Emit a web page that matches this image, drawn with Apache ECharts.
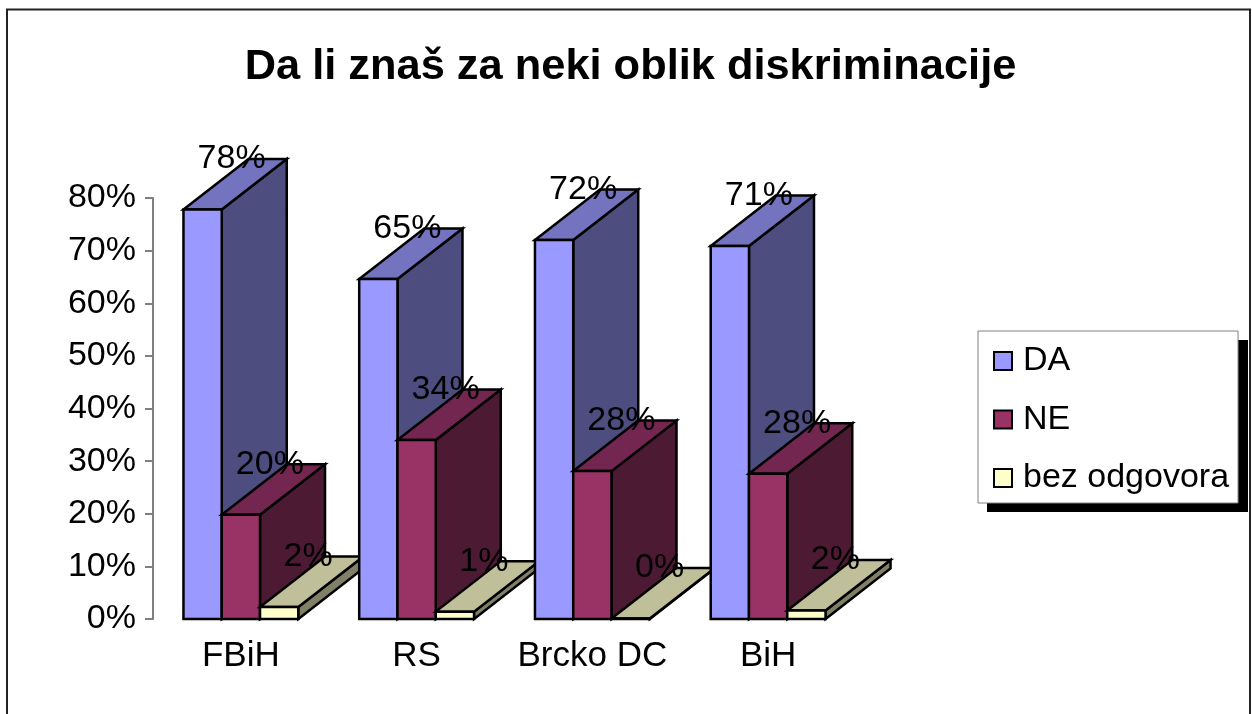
<!DOCTYPE html>
<html>
<head>
    <meta charset="utf-8">
    <title>Da li znaš za neki oblik diskriminacije</title>
    <script src="https://cdn.jsdelivr.net/npm/echarts@6/dist/echarts.min.js"></script>
    <style>
        html, body { margin: 0; padding: 0; background: #fff; overflow: hidden; }
    </style>
</head>

<body>
<div id="main" style="width: 1252px;height:714px;"></div>
<script type="text/javascript">
var categories = ['FBiH', 'RS', 'Brcko DC', 'BiH'];
var da = [77.8, 64.6, 72, 70.9];
var ne = [19.8, 34, 28.1, 27.6];
var bez = [2.3, 1.4, 0.1, 1.6];

var FONT = 'Liberation Sans';
var BAR_SHARE = 0.2178;   // bar width as part of the category band
var DEPTH_X = 65;
var DEPTH_Y = 50.5;

function makeSeries(name, idx, values, front, top, side) {
    return {
        name: name,
        type: 'custom',
        itemStyle: { color: front },
        encode: { x: 0, y: 1 },
        data: values.map(function (v, i) { return [i, v]; }),
        renderItem: function (params, api) {
            var cat = api.value(0);
            var val = api.value(1);
            var base = api.coord([cat, 0]);
            var head = api.coord([cat, val]);
            var w = api.size([1, 0])[0] * BAR_SHARE;
            var x0 = base[0] - 1.5 * w + idx * w;
            var x1 = x0 + w;
            var y0 = base[1];
            var y1 = head[1];
            var z = cat * 10 + idx;
            function face(points, color) {
                return {
                    type: 'polygon',
                    z2: z,
                    shape: { points: points },
                    style: { fill: color, stroke: '#000', lineWidth: 2.5, lineJoin: 'miter' }
                };
            }
            return {
                type: 'group',
                children: [
                    face([[x1, y0], [x1 + DEPTH_X, y0 - DEPTH_Y], [x1 + DEPTH_X, y1 - DEPTH_Y], [x1, y1]], side),
                    face([[x0, y1], [x1, y1], [x1 + DEPTH_X, y1 - DEPTH_Y], [x0 + DEPTH_X, y1 - DEPTH_Y]], top),
                    face([[x0, y0], [x1, y0], [x1, y1], [x0, y1]], front),
                    {
                        type: 'text',
                        z2: 1000,
                        x: x0 + w / 2 + 29,
                        y: y1 - DEPTH_Y,
                        style: {
                            text: Math.round(val) + '%',
                            fill: '#000',
                            font: '34px "' + FONT + '"',
                            align: 'center',
                            verticalAlign: 'middle'
                        }
                    }
                ]
            };
        }
    };
}

var myChart = echarts.init(document.getElementById('main'));
var option = {
    animation: false,
    backgroundColor: '#fff',
    textStyle: { fontFamily: FONT },
    title: {
        text: 'Da li znaš za neki oblik diskriminacije',
        left: 625.5,
        top: 41,
        textAlign: 'center',
        textStyle: { fontFamily: FONT, fontSize: 43.4, fontWeight: 'bold', color: '#000' }
    },
    graphic: [{
        type: 'rect',
        z: -1,
        shape: { x: 7, y: 9.5, width: 1243, height: 730 },
        style: { fill: 'none', stroke: '#222', lineWidth: 2 }
    }, {
        // legend drop shadow
        type: 'rect',
        z: 1,
        shape: { x: 987, y: 340, width: 261, height: 172 },
        style: { fill: '#000' }
    }],
    legend: {
        orient: 'vertical',
        left: 978,
        top: 331,
        icon: 'rect',
        itemWidth: 18,
        itemHeight: 18,
        itemGap: 24.5,
        padding: [13, 9, 8, 15],
        backgroundColor: '#fff',
        borderColor: '#808080',
        borderWidth: 1,
        itemStyle: { borderColor: '#000', borderWidth: 2 },
        textStyle: { fontFamily: FONT, fontSize: 34, color: '#000', padding: [0, 0, 0, 6] },
        data: ['DA', 'NE', 'bez odgovora']
    },
    grid: { left: 153, right: 396, top: 198, bottom: 95 },
    xAxis: {
        type: 'category',
        data: categories,
        axisLine: { show: false },
        axisTick: { show: false },
        axisLabel: { fontFamily: FONT, fontSize: 35, color: '#000', margin: 20, interval: 0 }
    },
    yAxis: {
        type: 'value',
        min: 0,
        max: 80,
        interval: 10,
        splitLine: { show: false },
        axisLine: { show: true, lineStyle: { color: '#808080', width: 2 } },
        axisTick: { show: true, length: 8, lineStyle: { color: '#808080', width: 2 } },
        axisLabel: { fontFamily: FONT, fontSize: 34, color: '#000', margin: 17, formatter: '{value}%' }
    },
    series: [
        makeSeries('DA', 0, da, '#9999ff', '#7373bf', '#4d4d80'),
        makeSeries('NE', 1, ne, '#993366', '#732650', '#4d1a33'),
        makeSeries('bez odgovora', 2, bez, '#ffffcc', '#bfbf99', '#808066')
    ]
};
myChart.setOption(option);
</script>
</body>

</html>
